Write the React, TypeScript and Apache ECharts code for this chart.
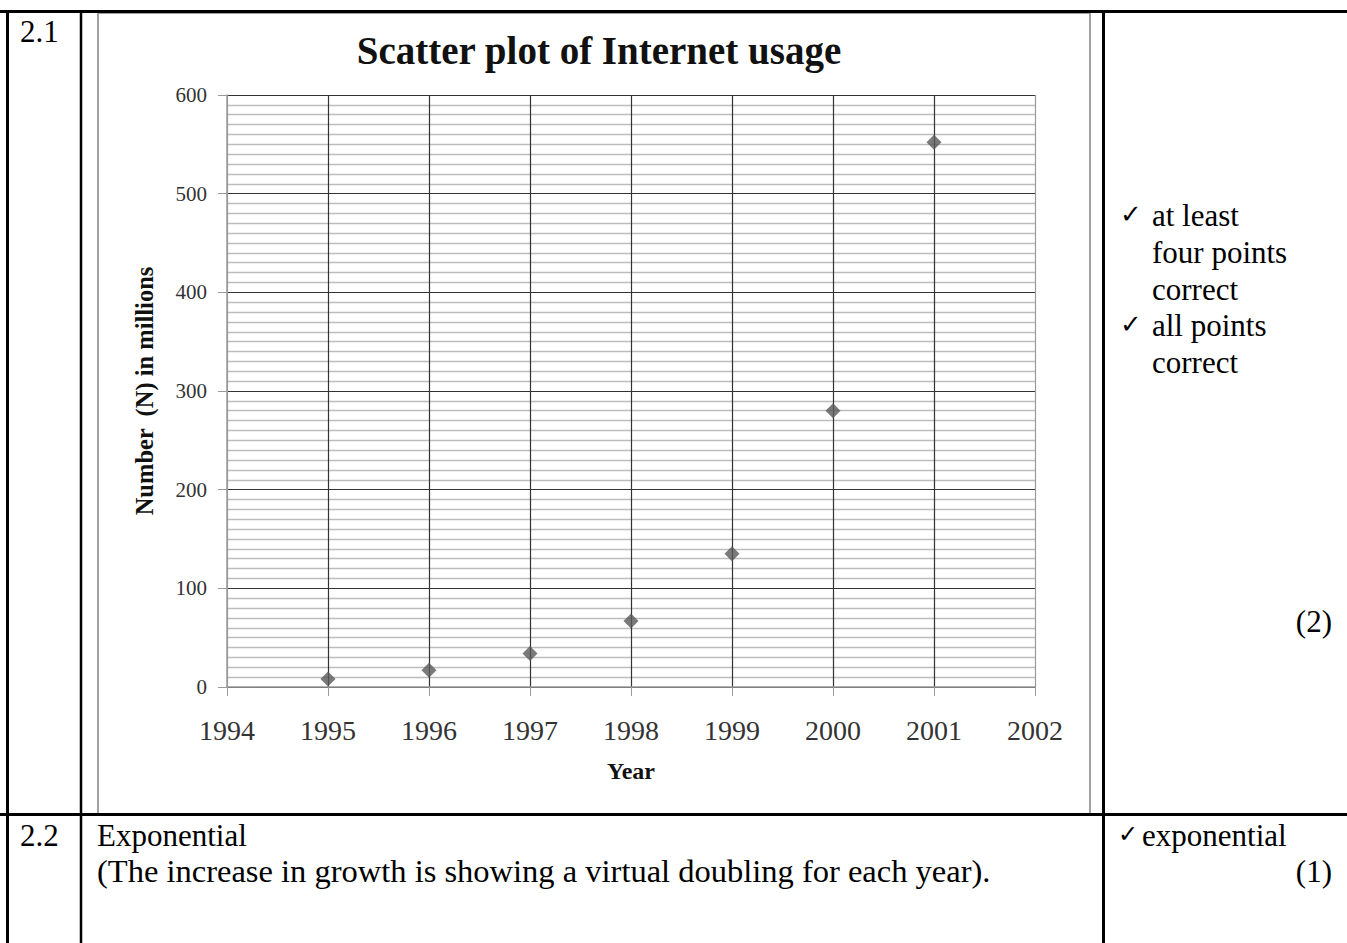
import React, { useEffect, useRef } from "react";
import * as echarts from "echarts";

const years = [1995, 1996, 1997, 1998, 1999, 2000, 2001];
const users = [8, 17, 34, 67, 135, 280, 552];
const xTicks = [1994, 2002];
const yTicks = [0, 600];

const titleText = "Scatter plot of Internet usage";
const yName = "Number  (N) in millions";
const xName = "Year";

const SERIF = "'Liberation Serif', 'Times New Roman', serif";

export default function App() {
  const ref = useRef<HTMLDivElement>(null);
  useEffect(() => {
    if (!ref.current) return;
    const chart = echarts.init(ref.current, null, { renderer: "svg" });
    const line = (x1: number, y1: number, x2: number, y2: number, w: number, c = "#000") => ({
      type: "line",
      shape: { x1, y1, x2, y2 },
      style: { stroke: c, lineWidth: w },
      silent: true,
    });
    const txt = (x: number, y: number, text: string, align = "left", size = 31, font = SERIF) => ({
      type: "text",
      x,
      y,
      style: { text, fill: "#000", font: `${size}px ${font}`, textAlign: align, textVerticalAlign: "middle" },
      silent: true,
    });
    const CHECK_FONT = "'DejaVu Sans', sans-serif";
    const xSplitColors = ["#9a9a9a", "#333", "#333", "#333", "#333", "#333", "#333", "#333", "#9a9a9a"];
    chart.setOption({
      animation: false,
      backgroundColor: "#fff",
      title: {
        text: titleText,
        left: 594,
        top: 26,
        textAlign: "center",
        textStyle: { fontFamily: SERIF, fontWeight: "bold", fontSize: 39, color: "#111" },
      },
      grid: { left: 227, top: 95, width: 808, height: 592 },
      xAxis: {
        type: "value",
        min: xTicks[0],
        max: xTicks[1],
        interval: 1,
        name: xName,
        nameLocation: "middle",
        nameGap: 72,
        nameTextStyle: { fontFamily: SERIF, fontWeight: "bold", fontSize: 24, color: "#111" },
        axisLine: { show: true, lineStyle: { color: "#9a9a9a", width: 1.5 } },
        axisTick: { show: true, length: 9, lineStyle: { color: "#9a9a9a" } },
        axisLabel: { fontFamily: SERIF, fontSize: 28, color: "#333", margin: 29, formatter: (v: number) => String(v) },
        splitLine: { show: true, lineStyle: { color: xSplitColors, width: 1.2 } },
      },
      yAxis: {
        type: "value",
        min: yTicks[0],
        max: yTicks[1],
        interval: 100,
        name: yName,
        nameLocation: "middle",
        nameRotate: 90,
        nameGap: 70,
        nameTextStyle: { fontFamily: SERIF, fontWeight: "bold", fontSize: 24.5, color: "#111" },
        axisLine: { show: true, lineStyle: { color: "#9a9a9a", width: 1.5 } },
        axisTick: { show: true, length: 9, lineStyle: { color: "#9a9a9a" } },
        axisLabel: { fontFamily: SERIF, fontSize: 21, color: "#333", margin: 20 },
        splitLine: { show: true, lineStyle: { color: "#333", width: 1.2 } },
        minorTick: { show: false, splitNumber: 10 },
        minorSplitLine: { show: true, lineStyle: { color: "#bdbdbd", width: 1.4 } },
      },
      series: [
        {
          type: "scatter",
          symbol: "diamond",
          symbolSize: 15,
          itemStyle: { color: "#595959" },
          data: years.map((y, i) => [y, users[i]]),
          z: 5,
        },
      ],
      graphic: [
        {
          type: "rect",
          shape: { x: 98, y: 13, width: 992, height: 801 },
          style: { fill: "none", stroke: "#a0a0a0", lineWidth: 2 },
          silent: true,
          z: -1,
        },
        line(0, 11.5, 1347, 11.5, 3),
        line(7.5, 10, 7.5, 943, 3),
        line(81, 10, 81, 943, 2.5),
        line(1103.5, 10, 1103.5, 943, 3),
        line(0, 814.5, 1347, 814.5, 3),
        txt(20, 31, "2.1", "left", 31),
        txt(1120, 214, "✓", "left", 26, CHECK_FONT),
        txt(1152, 215, "at least"),
        txt(1152, 252, "four points"),
        txt(1152, 289, "correct"),
        txt(1120, 324, "✓", "left", 26, CHECK_FONT),
        txt(1152, 325, "all points"),
        txt(1152, 362, "correct"),
        txt(1332, 621, "(2)", "right"),
        txt(20, 835, "2.2", "left", 31),
        txt(97, 835, "Exponential"),
        txt(97, 871, "(The increase in growth is showing a virtual doubling for each year).", "left", 32.5),
        txt(1118, 834, "✓", "left", 24, CHECK_FONT),
        txt(1142, 835, "exponential"),
        txt(1332, 871, "(1)", "right"),
      ],
    });
    return () => chart.dispose();
  }, []);
  return (
    <div
      ref={ref}
      style={{ position: "absolute", left: 0, top: 0, width: 1347, height: 943, background: "#fff" }}
    />
  );
}
